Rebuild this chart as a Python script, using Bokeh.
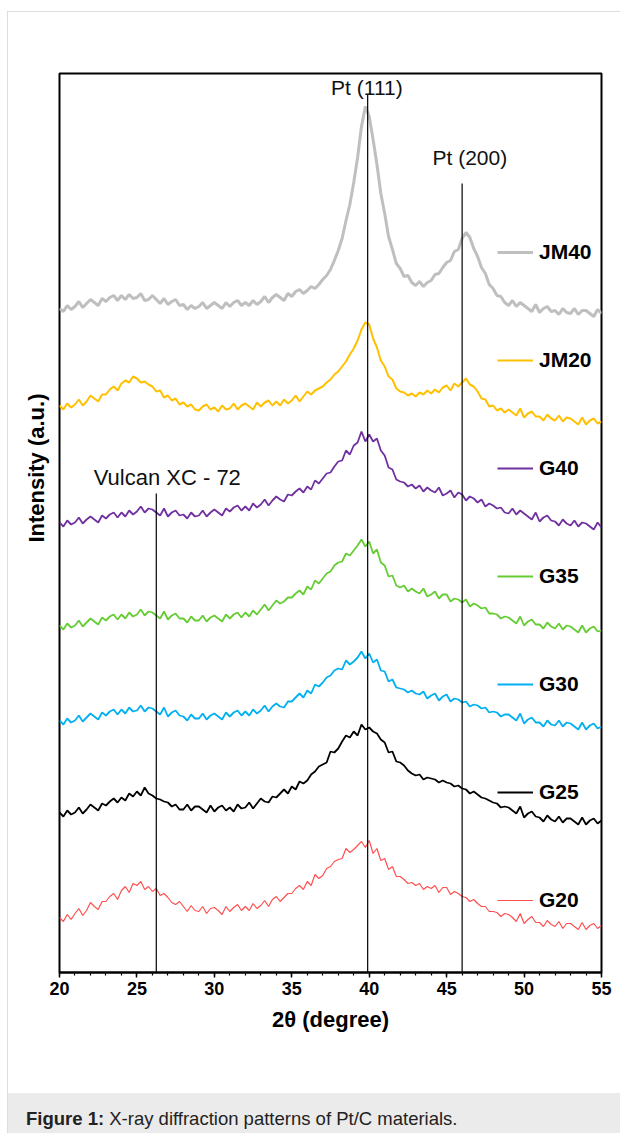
import numpy as np
from bokeh.plotting import figure
from bokeh.layouts import column
from bokeh.models import Label, Legend, LegendItem, FixedTicker, Range1d, Title, Div
from bokeh.embed import file_html
from bokeh.resources import INLINE

# 2-theta sampling grid (degrees)
two_theta = np.arange(20.0, 55.001, 0.25)

jm40 = [664, 661, 667, 663, 666, 671, 665, 669, 673, 670, 667, 674, 671, 675, 677, 672,
        677, 673, 678, 674, 675, 679, 672, 673, 677, 673, 669, 674, 668, 671, 673, 667,
        668, 663, 667, 664, 666, 670, 664, 667, 670, 667, 664, 670, 666, 670, 672, 667,
        670, 667, 672, 668, 671, 676, 670, 675, 678, 675, 672, 679, 676, 681, 683, 679,
        682, 686, 684, 688, 693, 697, 703, 712, 722, 734, 752, 768, 790, 815, 846, 866,
        856, 833, 808, 779, 759, 736, 723, 709, 704, 696, 697, 690, 687, 691, 686, 690,
        692, 698, 699, 705, 710, 712, 721, 723, 734, 740, 735, 724, 716, 705, 699, 688,
        684, 677, 676, 670, 667, 672, 666, 670, 667, 664, 661, 668, 660, 664, 666, 661,
        662, 658, 664, 660, 659, 664, 658, 662, 662, 659, 656, 663, 659]

jm20 = [567, 563, 569, 565, 568, 573, 567, 571, 577, 574, 571, 578, 578, 583, 586, 582,
        589, 592, 590, 596, 594, 590, 591, 588, 586, 581, 582, 575, 577, 572, 574, 568,
        570, 566, 568, 563, 562, 566, 568, 563, 565, 561, 567, 563, 564, 569, 563, 567,
        569, 566, 563, 570, 566, 570, 572, 567, 571, 567, 573, 569, 572, 577, 571, 576,
        581, 578, 582, 584, 586, 590, 593, 598, 601, 606, 611, 618, 624, 632, 643, 650,
        648, 634, 625, 612, 606, 596, 593, 584, 581, 580, 577, 579, 576, 580, 578, 582,
        579, 583, 580, 585, 587, 582, 589, 586, 590, 594, 588, 586, 581, 574, 573, 566,
        567, 562, 564, 560, 563, 560, 557, 564, 555, 559, 561, 556, 556, 552, 558, 554,
        552, 557, 551, 555, 554, 551, 548, 555, 548, 552, 554, 549, 551]

g40 = [450, 446, 452, 448, 450, 455, 449, 453, 456, 453, 450, 457, 454, 458, 460, 455,
       460, 456, 462, 458, 461, 466, 460, 464, 463, 460, 457, 464, 456, 460, 462, 457,
       458, 454, 460, 456, 457, 462, 456, 460, 463, 460, 457, 464, 461, 465, 467, 462,
       466, 462, 469, 465, 468, 473, 467, 472, 476, 473, 471, 478, 477, 481, 484, 480,
       486, 483, 492, 489, 494, 499, 500, 506, 511, 512, 522, 518, 527, 530, 541, 531,
       538, 531, 534, 522, 517, 505, 503, 493, 491, 490, 486, 488, 484, 487, 481, 485,
       482, 480, 485, 477, 479, 482, 475, 480, 478, 472, 476, 474, 470, 473, 466, 469,
       467, 464, 465, 460, 459, 464, 458, 462, 459, 456, 453, 460, 451, 455, 457, 452,
       451, 447, 453, 449, 447, 452, 446, 450, 449, 446, 443, 450, 445]

g35 = [347, 343, 349, 345, 347, 352, 346, 350, 354, 351, 348, 355, 352, 356, 358, 353,
       358, 354, 360, 356, 358, 363, 357, 361, 360, 357, 354, 361, 353, 357, 359, 354,
       354, 350, 356, 352, 352, 357, 351, 355, 357, 354, 351, 358, 354, 358, 360, 355,
       360, 356, 362, 358, 363, 368, 362, 367, 372, 369, 371, 375, 375, 379, 382, 378,
       386, 383, 392, 389, 394, 399, 401, 407, 410, 411, 419, 417, 422, 427, 433, 426,
       431, 419, 423, 410, 407, 396, 397, 387, 385, 387, 381, 384, 381, 379, 384, 376,
       378, 381, 374, 378, 378, 371, 374, 373, 370, 373, 366, 369, 367, 364, 365, 359,
       359, 358, 354, 356, 355, 352, 349, 356, 347, 351, 353, 348, 348, 344, 350, 346,
       344, 349, 343, 347, 346, 343, 340, 347, 340, 344, 346, 341, 342]

g30 = [252, 248, 254, 250, 252, 257, 251, 255, 259, 256, 253, 260, 257, 261, 263, 258,
       263, 259, 265, 261, 262, 267, 261, 265, 264, 261, 258, 265, 256, 260, 262, 257,
       256, 252, 258, 254, 254, 259, 253, 257, 259, 256, 253, 260, 256, 260, 262, 257,
       261, 257, 263, 259, 262, 267, 261, 266, 269, 266, 265, 271, 271, 275, 279, 275,
       282, 279, 288, 286, 290, 295, 297, 302, 304, 303, 312, 308, 311, 315, 321, 314,
       319, 310, 313, 302, 301, 291, 293, 285, 284, 283, 280, 282, 279, 278, 281, 274,
       277, 279, 272, 276, 278, 271, 274, 273, 270, 271, 266, 268, 267, 264, 265, 260,
       261, 260, 256, 258, 258, 255, 252, 259, 249, 253, 255, 250, 250, 246, 252, 248,
       247, 252, 246, 250, 249, 246, 243, 250, 243, 247, 249, 244, 246]

g25 = [160, 156, 162, 158, 160, 165, 159, 163, 168, 165, 162, 169, 167, 171, 174, 170,
       175, 172, 179, 176, 181, 177, 185, 179, 177, 174, 173, 171, 170, 166, 168, 163,
       163, 168, 162, 166, 166, 163, 160, 167, 161, 165, 167, 162, 165, 161, 168, 164,
       165, 170, 164, 169, 174, 171, 170, 176, 175, 179, 183, 179, 186, 183, 191, 189,
       192, 198, 201, 206, 208, 210, 221, 220, 224, 231, 237, 235, 241, 237, 248, 243,
       245, 241, 239, 233, 230, 220, 221, 211, 210, 207, 202, 199, 197, 198, 193, 195,
       194, 193, 190, 192, 190, 189, 186, 187, 184, 183, 179, 181, 178, 175, 174, 172,
       170, 169, 165, 166, 165, 162, 159, 166, 155, 159, 161, 156, 155, 151, 157, 153,
       151, 156, 150, 154, 154, 151, 148, 155, 148, 152, 154, 149, 152]

g20 = [55, 51, 58, 53, 59, 64, 57, 62, 70, 66, 63, 71, 71, 76, 79, 73,
       82, 86, 80, 89, 87, 91, 83, 86, 81, 84, 77, 79, 75, 70, 68, 71,
       66, 61, 67, 62, 61, 66, 59, 64, 65, 62, 58, 66, 61, 65, 68, 62,
       66, 62, 69, 64, 67, 72, 66, 73, 76, 71, 75, 79, 79, 84, 87, 83,
       91, 87, 98, 94, 97, 104, 106, 111, 113, 114, 124, 120, 123, 127, 131, 125,
       132, 119, 124, 112, 114, 103, 106, 96, 96, 93, 89, 90, 87, 89, 83, 86,
       84, 87, 80, 85, 85, 78, 81, 79, 76, 75, 71, 73, 69, 66, 66, 61,
       61, 60, 56, 59, 58, 55, 51, 59, 49, 53, 56, 50, 50, 46, 52, 48,
       46, 51, 44, 49, 49, 46, 43, 50, 43, 47, 49, 44, 47]

series_names = ["JM40", "JM20", "G40", "G35", "G30", "G25", "G20"]
series_values = [jm40, jm20, g40, g35, g30, g25, g20]
series_colors = ["#bfbfbf", "#ffc000", "#7030a0", "#66cc33", "#00b0f0", "#000000", "#ff5050"]
series_widths = [3.0, 2.0, 1.8, 1.8, 1.8, 1.8, 1.2]

peak_names = ["Vulcan XC - 72", "Pt (111)", "Pt (200)"]
peak_pos = [26.25, 39.9, 46.0]
peak_line_top = [479, 878, 789]
peak_label_x = [26.96, 39.85, 46.5]
peak_label_y = [495, 885, 815]
peak_label_size = ["22px", "21px", "21px"]

x_ticks = [20, 25, 30, 35, 40, 45, 50, 55]
FONT = "Liberation Sans"

p = figure(width=612, height=1081, output_backend="svg", toolbar_location=None,
           x_range=Range1d(20, 55), y_range=Range1d(0, 899),
           min_border_left=51, min_border_right=19, min_border_top=61, min_border_bottom=121)
p.background_fill_color = "white"
p.border_fill_color = "white"
p.outline_line_color = "black"
p.outline_line_width = 2
p.xgrid.visible = False
p.ygrid.visible = False
p.yaxis.visible = False

ax = p.xaxis[0]
ax.ticker = FixedTicker(ticks=x_ticks, minor_ticks=list(range(20, 56)))
ax.axis_line_width = 2
ax.major_tick_in = 0
ax.major_tick_out = 5
ax.major_tick_line_width = 1.5
ax.minor_tick_in = 0
ax.minor_tick_out = 3
ax.minor_tick_line_width = 1.2
ax.major_label_text_font = FONT
ax.major_label_text_font_size = "18px"
ax.major_label_text_font_style = "bold"
ax.major_label_text_color = "black"
ax.major_label_standoff = 4
ax.axis_label = "2θ (degree)"
ax.axis_label_text_font = FONT
ax.axis_label_text_font_size = "22px"
ax.axis_label_text_font_style = "bold"
ax.axis_label_text_color = "black"
ax.axis_label_standoff = 9

items = []
for name, vals, col, w in zip(series_names, series_values, series_colors, series_widths):
    r = p.line(two_theta, vals, line_color=col, line_width=w)
    items.append(LegendItem(label=name, renderers=[r]))

p.segment(x0=peak_pos, y0=[0] * len(peak_pos), x1=peak_pos, y1=peak_line_top,
          line_color="black", line_width=1.2)

for name, lx, ly, fs in zip(peak_names, peak_label_x, peak_label_y, peak_label_size):
    p.add_layout(Label(x=lx, y=ly, text=name, text_font=FONT, text_font_size=fs,
                       text_align="center", text_baseline="middle", text_color="#111111"))

legend = Legend(items=items, location=(438, 60), orientation="vertical")
legend.glyph_width = 36
legend.glyph_height = 20
legend.label_height = 20
legend.label_standoff = 6
legend.spacing = 84
legend.padding = 0
legend.margin = 0
legend.border_line_alpha = 0
legend.background_fill_alpha = 0
legend.label_text_font = FONT
legend.label_text_font_size = "21px"
legend.label_text_font_style = "bold"
legend.label_text_color = "black"
p.add_layout(legend)

# y-axis title (placed in the left panel, text ending 320 px below the frame top)
ytitle = Title(text="Intensity (a.u.)", align="right", offset=320, standoff=22,
               text_font=FONT, text_font_size="22px", text_font_style="bold",
               text_color="black")
p.add_layout(ytitle, "left")

caption = Div(
    text='<div style="padding:6px 0 0 18px; line-height:40px; font-family:\'Liberation Sans\', Arial, sans-serif; '
         'font-size:18.5px; color:#222; white-space:nowrap;"><b>Figure 1:</b> X-ray diffraction patterns of Pt/C materials.</div>',
    width=612, height=40, margin=0,
    styles={"background-color": "#ebebeb", "overflow": "hidden"})

page = column(p, caption, spacing=0, margin=(11, 0, 0, 7),
              styles={"border-top": "1px solid #dddddd", "border-left": "1px solid #dddddd"})

open("out.html", "w").write(file_html(page, INLINE))
